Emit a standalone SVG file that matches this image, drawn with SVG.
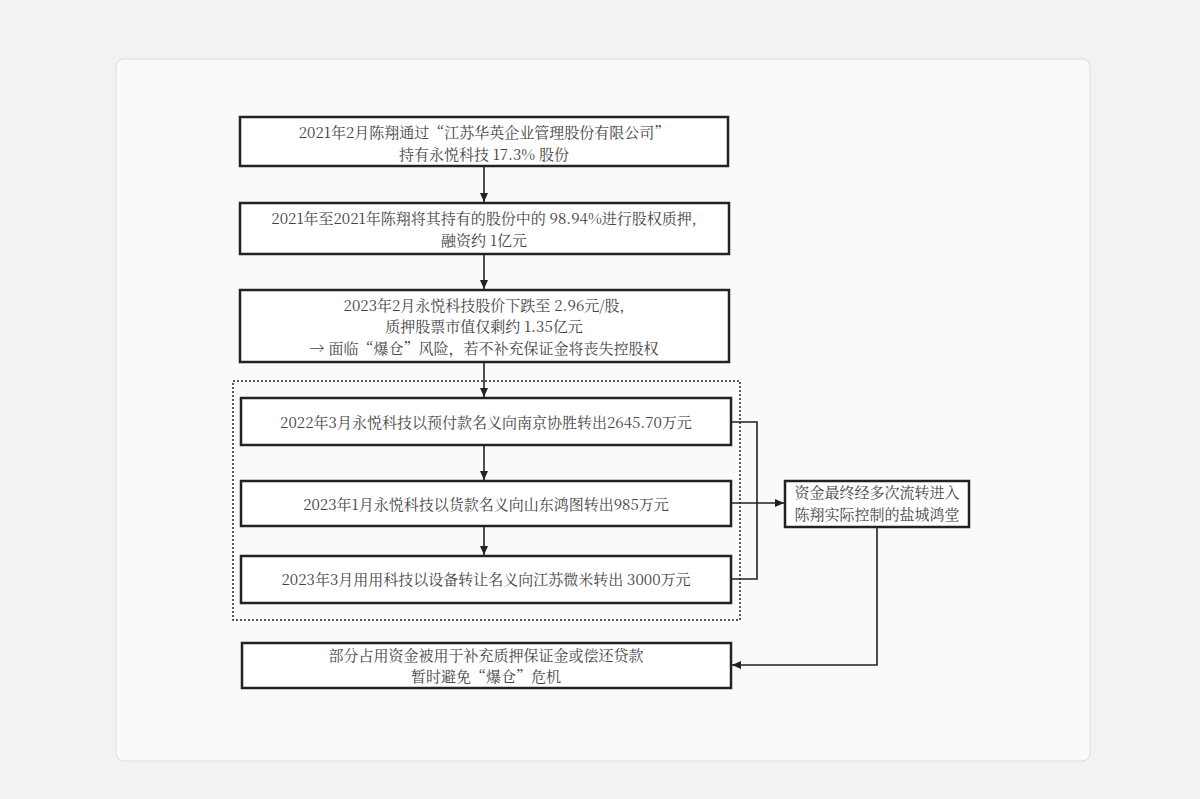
<svg xmlns="http://www.w3.org/2000/svg" width="1200" height="799" viewBox="0 0 1200 799">
<defs>
<marker id="ah" markerWidth="10" markerHeight="10" refX="9" refY="5" orient="auto" markerUnits="userSpaceOnUse"><path d="M0,1 L9,5 L0,9 Z" fill="#222"/></marker>
<style>
.box{fill:#fff;stroke:#222;stroke-width:2.5}
.t{font-family:"Noto Serif CJK SC","Liberation Serif","Noto Sans CJK SC",serif;font-size:15px;fill:#444;text-anchor:middle}
.c{fill:none;stroke:#222;stroke-width:1.6}
</style>
</defs>
<rect width="1200" height="799" fill="#f2f2f2"/>
<rect x="116" y="59" width="974" height="702" rx="8" fill="#fafafa" stroke="#dcdcdc"/>
<rect x="233" y="381" width="507" height="239" fill="none" stroke="#222" stroke-width="1.5" stroke-dasharray="2,2"/>
<g id="n1"><rect class="box" x="240" y="117" width="488" height="49"/><text class="t" x="484" y="138">2021年2月陈翔通过“江苏华英企业管理股份有限公司”</text><text class="t" x="484" y="160">持有永悦科技 17.3% 股份</text></g>
<g id="n2"><rect class="box" x="240" y="203" width="489" height="51"/><text class="t" x="484" y="224">2021年至2021年陈翔将其持有的股份中的 98.94%进行股权质押,</text><text class="t" x="484" y="246">融资约 1亿元</text></g>
<g id="n3"><rect class="box" x="240" y="290" width="489" height="72"/><text class="t" x="484" y="311">2023年2月永悦科技股价下跌至 2.96元/股,</text><text class="t" x="484" y="332">质押股票市值仅剩约 1.35亿元</text><text class="t" x="484" y="354">→ 面临“爆仓”风险，若不补充保证金将丧失控股权</text></g>
<g id="n4"><rect class="box" x="241" y="398" width="490" height="47"/><text class="t" x="486" y="428">2022年3月永悦科技以预付款名义向南京协胜转出2645.70万元</text></g>
<g id="n5"><rect class="box" x="241" y="481" width="490" height="45"/><text class="t" x="486" y="510">2023年1月永悦科技以货款名义向山东鸿图转出985万元</text></g>
<g id="n6"><rect class="box" x="241" y="556" width="490" height="47"/><text class="t" x="486" y="585">2023年3月用用科技以设备转让名义向江苏微米转出 3000万元</text></g>
<g id="n7"><rect class="box" x="785" y="481" width="184" height="46"/><text class="t" x="877" y="498">资金最终经多次流转进入</text><text class="t" x="877" y="520">陈翔实际控制的盐城鸿堂</text></g>
<g id="n8"><rect class="box" x="242" y="643" width="489" height="45"/><text class="t" x="486" y="661">部分占用资金被用于补充质押保证金或偿还贷款</text><text class="t" x="486" y="682">暂时避免“爆仓”危机</text></g>
<g id="connectors">
<path class="c" d="M484,166 V202" marker-end="url(#ah)"/>
<path class="c" d="M484,254 V289" marker-end="url(#ah)"/>
<path class="c" d="M484,362 V397" marker-end="url(#ah)"/>
<path class="c" d="M484,445 V480" marker-end="url(#ah)"/>
<path class="c" d="M484,526 V555" marker-end="url(#ah)"/>
<path class="c" d="M731,422 H757 V579 H731"/>
<path class="c" d="M731,503 H784" marker-end="url(#ah)"/>
<path class="c" d="M877,527 V665 H732" marker-end="url(#ah)"/>
</g>
</svg>
